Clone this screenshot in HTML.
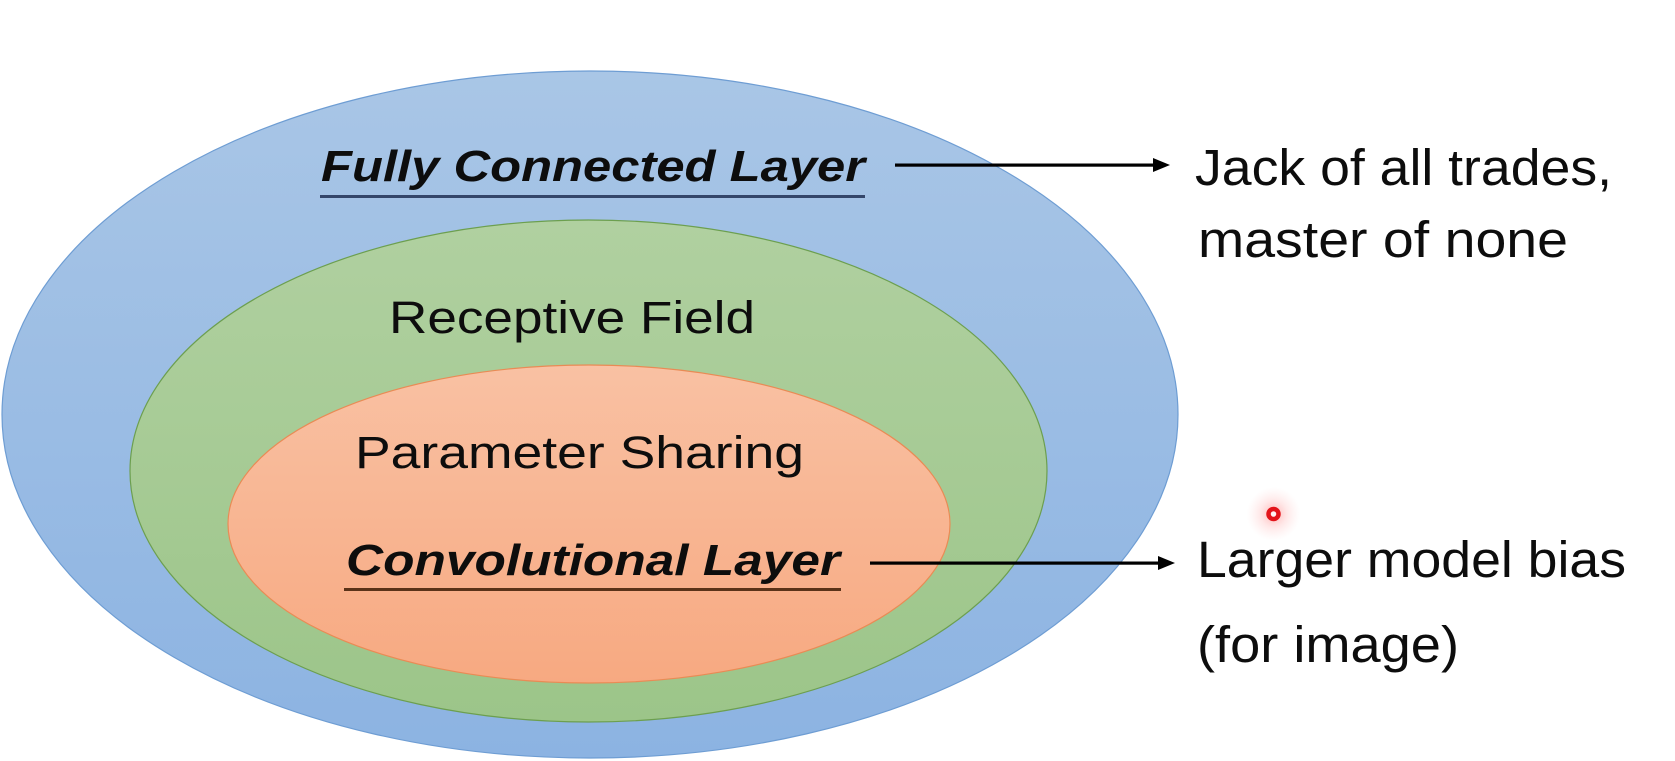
<!DOCTYPE html>
<html>
<head>
<meta charset="utf-8">
<style>
  html,body{margin:0;padding:0;background:#ffffff;}
  body{width:1675px;height:761px;overflow:hidden;}
  svg{display:block;}
  text{font-family:"Liberation Sans", Arial, sans-serif;fill:#0d0d0d;}
</style>
</head>
<body>
<svg width="1675" height="761" viewBox="0 0 1675 761" xmlns="http://www.w3.org/2000/svg">
  <defs>
    <linearGradient id="gBlue" x1="0" y1="0" x2="0" y2="1">
      <stop offset="0" stop-color="#a9c6e6"/>
      <stop offset="1" stop-color="#8cb3e2"/>
    </linearGradient>
    <linearGradient id="gGreen" x1="0" y1="0" x2="0" y2="1">
      <stop offset="0" stop-color="#b0d0a0"/>
      <stop offset="1" stop-color="#9cc589"/>
    </linearGradient>
    <linearGradient id="gOrange" x1="0" y1="0" x2="0" y2="1">
      <stop offset="0" stop-color="#f9c1a3"/>
      <stop offset="1" stop-color="#f7a981"/>
    </linearGradient>
    <radialGradient id="gGlow" cx="0.5" cy="0.5" r="0.5">
      <stop offset="0" stop-color="#ff5a5a" stop-opacity="0.45"/>
      <stop offset="0.5" stop-color="#ff8080" stop-opacity="0.18"/>
      <stop offset="1" stop-color="#ffb0b0" stop-opacity="0"/>
    </radialGradient>
  </defs>

  <!-- Ellipses -->
  <ellipse cx="590" cy="414.5" rx="588" ry="343.5" fill="url(#gBlue)" stroke="#6e9dd3" stroke-width="1.2"/>
  <ellipse cx="588.5" cy="471" rx="458.5" ry="251" fill="url(#gGreen)" stroke="#6c9f4f" stroke-width="1.2"/>
  <ellipse cx="589" cy="524" rx="361" ry="159" fill="url(#gOrange)" stroke="#e98b55" stroke-width="1.2"/>

  <!-- Fully Connected Layer -->
  <text x="321" y="181" font-size="44" font-weight="bold" font-style="italic" textLength="544" lengthAdjust="spacingAndGlyphs">Fully Connected Layer</text>
  <rect x="320" y="195" width="545" height="3" fill="#34466a"/>

  <!-- Receptive Field -->
  <text x="389" y="333" font-size="45" textLength="366" lengthAdjust="spacingAndGlyphs">Receptive Field</text>

  <!-- Parameter Sharing -->
  <text x="355" y="468" font-size="45" textLength="449" lengthAdjust="spacingAndGlyphs">Parameter Sharing</text>

  <!-- Convolutional Layer -->
  <text x="346" y="575" font-size="44" font-weight="bold" font-style="italic" textLength="494" lengthAdjust="spacingAndGlyphs">Convolutional Layer</text>
  <rect x="344" y="588" width="497" height="3" fill="#5a3218"/>

  <!-- Arrows -->
  <rect x="895" y="163.5" width="260" height="3.2" fill="#000"/>
  <polygon points="1153,158 1170,165 1153,172" fill="#000"/>
  <rect x="870" y="561.5" width="290" height="3.2" fill="#000"/>
  <polygon points="1158,556 1175,563 1158,570" fill="#000"/>

  <!-- Right-side labels -->
  <text x="1195" y="185" font-size="51" textLength="417" lengthAdjust="spacingAndGlyphs">Jack of all trades,</text>
  <text x="1198" y="257" font-size="51" textLength="370" lengthAdjust="spacingAndGlyphs">master of none</text>
  <text x="1197" y="577" font-size="51" textLength="429" lengthAdjust="spacingAndGlyphs">Larger model bias</text>
  <text x="1197" y="662" font-size="51" textLength="262" lengthAdjust="spacingAndGlyphs">(for image)</text>

  <!-- Red pointer dot -->
  <circle cx="1273.5" cy="514" r="27" fill="url(#gGlow)"/>
  <circle cx="1273.5" cy="514" r="5" fill="#fff2f2" stroke="#e3141a" stroke-width="4.5"/>
</svg>
</body>
</html>
